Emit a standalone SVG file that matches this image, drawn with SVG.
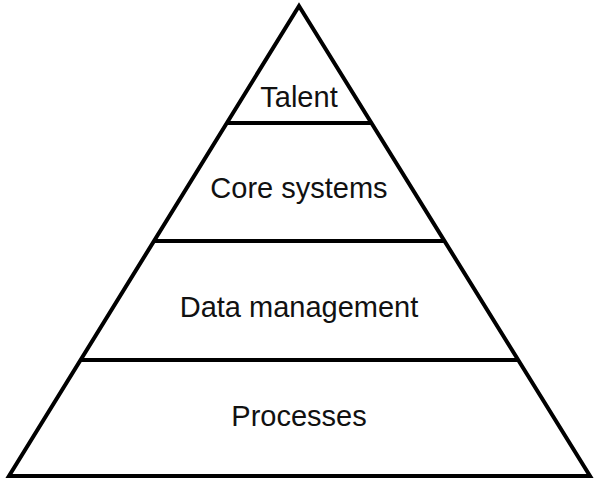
<svg xmlns="http://www.w3.org/2000/svg" width="600" height="483" viewBox="0 0 600 483">
<style>
.s{fill:none;stroke:#000;stroke-width:4;stroke-linejoin:miter}
.t{font-family:"Liberation Sans",Arial,sans-serif;font-size:29px;fill:#111;text-anchor:middle}
</style>
<rect width="600" height="483" fill="#fff"/>
<g id="connectors">
<polygon class="s" points="299,6 590,476 9,476"/>
<line class="s" x1="227" y1="123" x2="371" y2="123"/>
<line class="s" x1="154" y1="241" x2="444" y2="241"/>
<line class="s" x1="81" y1="360" x2="518" y2="360"/>
</g>
<g id="talent"><text class="t" x="299" y="107">Talent</text></g>
<g id="core"><text class="t" x="299" y="198">Core systems</text></g>
<g id="data"><text class="t" x="299" y="317">Data management</text></g>
<g id="processes"><text class="t" x="299" y="426">Processes</text></g>
</svg>
